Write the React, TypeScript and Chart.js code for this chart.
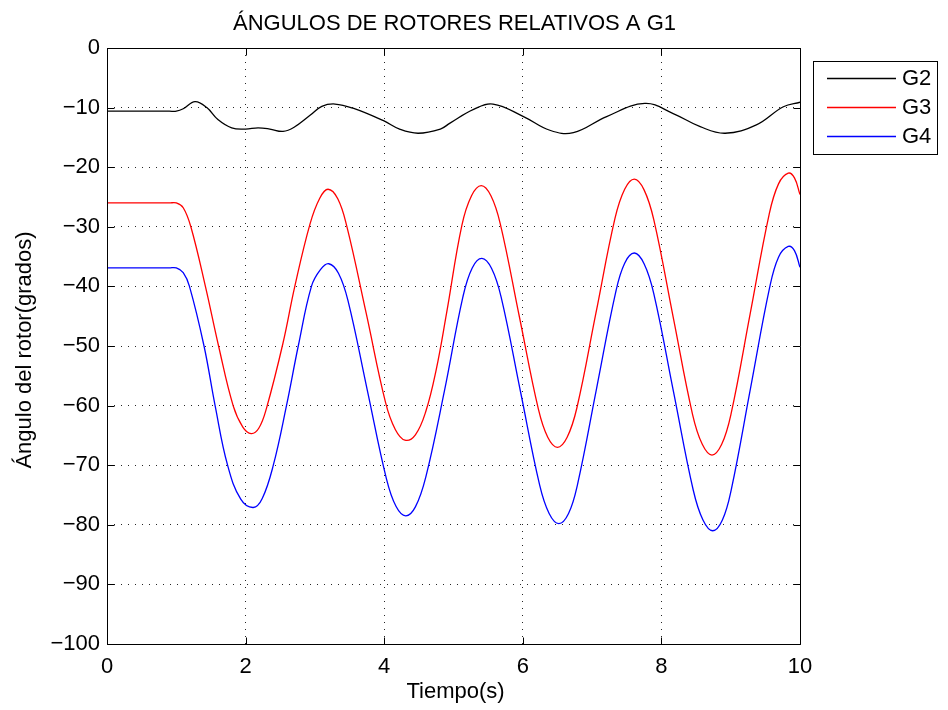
import React, { useEffect, useRef } from "react";
import { Chart, registerables } from "chart.js";

Chart.register(...registerables);

const chartTitle = "ÁNGULOS DE ROTORES RELATIVOS A G1";
const xTitle = "Tiempo(s)";
const yTitle = "Ángulo del rotor(grados)";
const seriesNames = ["G2", "G3", "G4"];
const seriesColors = ["#000000", "#ff0000", "#0000ff"];

const g2Times = [0, 0.9, 1.0, 1.1, 1.27, 1.44, 1.6, 1.8, 2.0, 2.18, 2.35, 2.54, 2.7, 2.93, 3.1, 3.29, 3.55, 3.99, 4.23, 4.49, 4.81, 4.95, 5.29, 5.57, 6.01, 6.39, 6.73, 7.21, 7.76, 8.17, 8.56, 8.92, 9.37, 9.76, 10.0];
const g2Values = [-10.6, -10.6, -10.6, -10.2, -9.0, -10.0, -12.0, -13.4, -13.6, -13.4, -13.6, -14.0, -13.3, -11.3, -9.8, -9.4, -10.1, -12.2, -13.65, -14.3, -13.6, -12.6, -10.3, -9.4, -11.5, -13.8, -14.2, -11.5, -9.3, -11.0, -13.2, -14.3, -12.9, -9.85, -9.1];

const g3Times = [0, 0.9, 1.0, 1.1, 1.21, 1.42, 1.61, 1.82, 1.96, 2.08, 2.19, 2.30, 2.54, 2.71, 2.93, 3.07, 3.19, 3.33, 3.46, 3.74, 4.02, 4.16, 4.30, 4.45, 4.60, 4.75, 4.90, 5.12, 5.26, 5.40, 5.54, 5.675, 5.95, 6.225, 6.36, 6.50, 6.64, 6.78, 7.055, 7.33, 7.47, 7.61, 7.75, 7.89, 8.17, 8.45, 8.59, 8.73, 8.87, 9.005, 9.28, 9.555, 9.69, 9.83, 9.92, 10.0];
const g3Values = [-26.0, -26.0, -26.0, -26.8, -30.0, -40.0, -50.0, -60.0, -63.6, -64.7, -63.8, -60.5, -49.5, -40.0, -29.5, -25.2, -23.7, -25.3, -29.9, -44.5, -59.5, -64.0, -65.8, -64.9, -61.0, -54.0, -44.5, -29.8, -24.8, -23.1, -24.8, -29.5, -45.05, -60.6, -65.3, -67.0, -65.3, -60.4, -44.5, -28.6, -23.7, -22.0, -23.8, -28.8, -45.15, -61.5, -66.5, -68.3, -66.5, -61.4, -44.65, -27.9, -22.8, -21.0, -21.8, -24.6];

const g4Times = [0, 0.9, 1.0, 1.1, 1.19, 1.40, 1.56, 1.74, 1.93, 2.11, 2.24, 2.40, 2.59, 2.76, 2.95, 3.08, 3.20, 3.34, 3.4775, 3.755, 4.0325, 4.17, 4.31, 4.45, 4.60, 4.87, 5.135, 5.27, 5.41, 5.55, 5.6875, 5.965, 6.2425, 6.38, 6.52, 6.66, 6.79, 7.065, 7.34, 7.47, 7.61, 7.75, 7.89, 8.175, 8.46, 8.60, 8.74, 8.88, 9.01, 9.285, 9.56, 9.69, 9.83, 9.92, 10.0];
const g4Values = [-36.9, -36.9, -36.9, -37.7, -40.0, -50.0, -60.0, -70.0, -75.7, -77.1, -75.6, -70.0, -60.0, -50.0, -40.0, -37.2, -36.2, -37.8, -42.4, -57.35, -72.3, -76.9, -78.5, -77.0, -72.0, -57.5, -41.8, -36.9, -35.3, -37.0, -41.8, -57.55, -73.3, -78.1, -79.8, -78.1, -73.2, -57.1, -41.0, -36.1, -34.4, -36.2, -41.2, -57.7, -74.2, -79.2, -81.0, -79.2, -74.0, -57.15, -40.3, -35.1, -33.3, -34.0, -36.8];

const xTicks = [0, 2, 4, 6, 8, 10];
const yTicks = [-100, -90, -80, -70, -60, -50, -40, -30, -20, -10, 0];

const FONT = "'Liberation Sans', Arial, Helvetica, sans-serif";
const FS = 22;

function toPoints(ts: number[], vs: number[]) {
  return ts.map((t, i) => ({ x: t, y: vs[i] }));
}

const fmt = (v: number) => (v < 0 ? "\u2212" + Math.abs(v) : String(v));

const decorPlugin = {
  id: "decor",
  afterDraw(chart: any) {
    const { ctx, chartArea: a, scales } = chart;
    const xs = scales.x;
    const ys = scales.y;
    ctx.save();
    ctx.setLineDash([]);
    ctx.strokeStyle = "#000";
    ctx.lineWidth = 1;
    const L = Math.round(a.left) + 0.5;
    const R = Math.round(a.right) + 0.5;
    const T = Math.round(a.top) + 0.5;
    const B = Math.round(a.bottom) + 0.5;
    ctx.beginPath();
    ctx.rect(L, T, R - L, B - T);
    ctx.stroke();
    const tl = 7;
    ctx.beginPath();
    xTicks.forEach((v) => {
      const px = Math.round(xs.getPixelForValue(v)) + 0.5;
      ctx.moveTo(px, B);
      ctx.lineTo(px, B - tl);
      ctx.moveTo(px, T);
      ctx.lineTo(px, T + tl);
    });
    yTicks.forEach((v) => {
      const py = Math.round(ys.getPixelForValue(v)) + 0.5;
      ctx.moveTo(L, py);
      ctx.lineTo(L + tl, py);
      ctx.moveTo(R, py);
      ctx.lineTo(R - tl, py);
    });
    ctx.stroke();

    ctx.fillStyle = "#000";
    ctx.font = `${FS}px ${FONT}`;
    ctx.textAlign = "center";
    ctx.textBaseline = "alphabetic";
    ctx.fillText(chartTitle, (a.left + a.right) / 2 + 1, 30);
    ctx.fillText(xTitle, (a.left + a.right) / 2 + 2, 698);
    ctx.save();
    ctx.translate(31, (a.top + a.bottom) / 2 + 4);
    ctx.rotate(-Math.PI / 2);
    ctx.fillText(yTitle, 0, 0);
    ctx.restore();

    // legend
    const bx = 813.5, by = 61.5, bw = 124, bh = 93;
    ctx.fillStyle = "#fff";
    ctx.fillRect(bx, by, bw, bh);
    ctx.strokeStyle = "#000";
    ctx.lineWidth = 1;
    ctx.strokeRect(bx, by, bw, bh);
    const rowY = [78, 107, 136];
    seriesNames.forEach((name, i) => {
      ctx.setLineDash([]);
      ctx.strokeStyle = seriesColors[i];
      ctx.lineWidth = 1.3;
      ctx.beginPath();
      ctx.moveTo(827, rowY[i] + 0.5);
      ctx.lineTo(896, rowY[i] + 0.5);
      ctx.stroke();
      ctx.fillStyle = "#000";
      ctx.textAlign = "left";
      ctx.textBaseline = "middle";
      ctx.fillText(name, 902, rowY[i] + 1);
    });
    ctx.restore();
  },
};

export default function App() {
  const ref = useRef<HTMLCanvasElement | null>(null);
  useEffect(() => {
    if (!ref.current) return;
    const series = [
      toPoints(g2Times, g2Values),
      toPoints(g3Times, g3Values),
      toPoints(g4Times, g4Values),
    ];
    const chart = new Chart(ref.current, {
      type: "line",
      data: {
        datasets: series.map((d, i) => ({
          label: seriesNames[i],
          data: d,
          borderColor: seriesColors[i],
          backgroundColor: seriesColors[i],
          borderWidth: 1.3,
          pointRadius: 0,
          tension: 0.4,
          fill: false,
        })),
      },
      options: {
        responsive: false,
        animation: false,
        events: [],
        layout: { padding: { left: 0, right: 148, top: 48, bottom: 0 } },
        plugins: {
          legend: { display: false },
          title: { display: false },
          tooltip: { enabled: false },
        },
        scales: {
          x: {
            type: "linear",
            min: 0,
            max: 10,
            afterFit: (s: any) => {
              s.height = 66;
            },
            afterBuildTicks: (s: any) => {
              s.ticks = xTicks.map((v) => ({ value: v }));
            },
            border: { display: false, dash: [1, 6] },
            grid: { color: "rgba(0,0,0,0.85)", lineWidth: 1, drawTicks: false },
            ticks: {
              color: "#000",
              font: { family: FONT, size: FS },
              padding: 10,
              maxRotation: 0,
              callback: (v: any) => fmt(Number(v)),
            },
          },
          y: {
            type: "linear",
            min: -100,
            max: 0,
            afterFit: (s: any) => {
              s.width = 107;
            },
            afterBuildTicks: (s: any) => {
              s.ticks = yTicks.map((v) => ({ value: v }));
            },
            border: { display: false, dash: [1, 6] },
            grid: { color: "rgba(0,0,0,0.85)", lineWidth: 1, drawTicks: false },
            ticks: {
              color: "#000",
              font: { family: FONT, size: FS },
              padding: 7,
              callback: (v: any) => fmt(Number(v)),
            },
          },
        },
      },
      plugins: [decorPlugin],
    });
    return () => chart.destroy();
  }, []);
  return (
    <div style={{ position: "absolute", left: 0, top: 0, width: 948, height: 710, background: "#fff" }}>
      <canvas ref={ref} width={948} height={710} style={{ display: "block" }} />
    </div>
  );
}
